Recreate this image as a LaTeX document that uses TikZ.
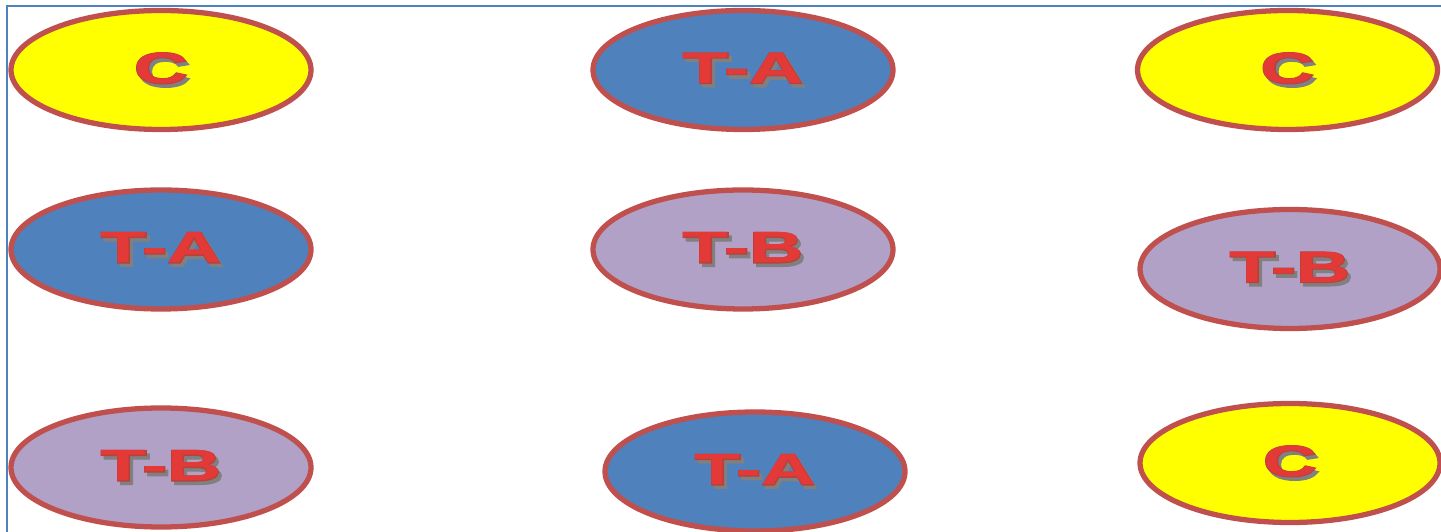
\documentclass[tikz,border=0pt]{standalone}
\usepackage{fontspec}
\usepackage{graphicx}
\setmainfont{Liberation Sans}
\newfontfamily\tagfont{Liberation Sans Bold}
\newfontfamily\tagfontthick{Liberation Sans Bold}[FakeBold=3]
\usetikzlibrary{shapes.geometric}

\definecolor{edgered}{HTML}{C0504D}
\definecolor{fillyellow}{HTML}{FFFF00}
\definecolor{fillblue}{HTML}{4F81BD}
\definecolor{filllilac}{HTML}{B2A1C7}
\definecolor{tagfill}{HTML}{E33A37}
\definecolor{tagedge}{HTML}{B9413D}
\definecolor{tagshadow}{HTML}{808080}
\definecolor{framecol}{HTML}{4F81BD}

% label with outline and shadow
\newcommand{\tagtext}[1]{\scalebox{1.7}[1]{\fontsize{12.5}{14}\selectfont\ooalign{%
  \hfil\hspace{1pt}\raisebox{-1pt}{\color{tagshadow}\tagfontthick #1}\hfil\cr
  \hfil{\color{tagedge}\tagfontthick #1}\hfil\cr
  \hfil{\color{tagfill}\tagfont #1}\hfil\cr}}}

\begin{document}
\begin{tikzpicture}[
  cell/.style={ellipse, draw=edgered, line width=1.5pt, minimum width=3.0cm, minimum height=1.19cm, inner sep=0pt},
  ccell/.style={cell, fill=fillyellow},
  acell/.style={cell, fill=fillblue},
  bcell/.style={cell, fill=filllilac},
  frame/.style={draw=framecol, line width=0.8pt}
]
\useasboundingbox (0,0) rectangle (14.41,-5.32);

\draw[frame] (0.07,-5.32) |- (14.41,-0.06);

% top row
\node[ccell] (c1) at (1.61,-0.70) {\tagtext{C}};
\node[acell] (a1) at (7.43,-0.70) {\tagtext{T-A}};
\node[ccell] (c2) at (12.875,-0.70) {\tagtext{C}};

% middle row
\node[acell] (a2) at (1.61,-2.495) {\tagtext{T-A}};
\node[bcell] (b1) at (7.43,-2.495) {\tagtext{T-B}};
\node[bcell] (b2) at (12.90,-2.69) {\tagtext{T-B}};

% bottom row
\node[bcell] (b3) at (1.61,-4.675) {\tagtext{T-B}};
\node[acell] (a3) at (7.55,-4.715) {\tagtext{T-A}};
\node[ccell] (c3) at (12.90,-4.63) {\tagtext{C}};

\end{tikzpicture}
\end{document}
